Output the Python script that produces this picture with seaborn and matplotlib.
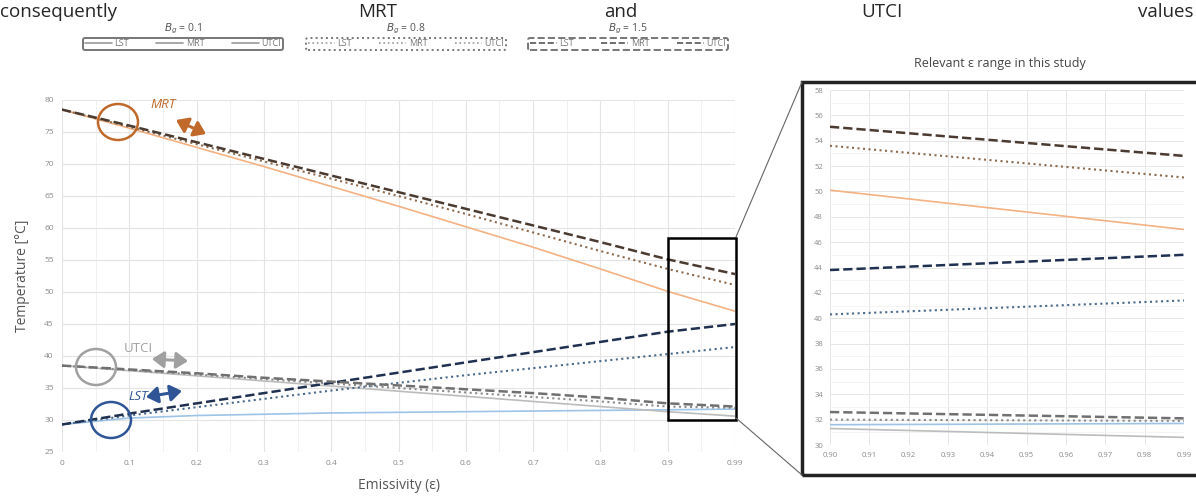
import numpy as np
import pandas as pd
import matplotlib
matplotlib.use("Agg")
import matplotlib.pyplot as plt
from matplotlib.patches import Ellipse, Rectangle, FancyArrowPatch
from matplotlib.lines import Line2D
import seaborn as sns

# x categories (emissivity)
emissivity = ["0", "0.1", "0.2", "0.3", "0.4", "0.5", "0.6", "0.7", "0.8", "0.9", "0.99"]

# B_g = 0.1 (solid)
lst_01 = [29.3, 30.3, 30.7, 30.9, 31.1, 31.2, 31.3, 31.4, 31.5, 31.6, 31.7]
mrt_01 = [78.5, 75.6, 72.6, 69.6, 66.5, 63.4, 60.2, 57.0, 53.6, 50.1, 47.0]
utci_01 = [38.5, 37.7, 36.9, 36.1, 35.3, 34.5, 33.7, 32.9, 32.1, 31.3, 30.6]
# B_g = 0.8 (dotted)
lst_08 = [29.3, 30.7, 32.0, 33.3, 34.6, 35.8, 37.0, 38.1, 39.2, 40.3, 41.4]
mrt_08 = [78.5, 75.8, 73.1, 70.4, 67.7, 65.0, 62.2, 59.3, 56.4, 53.6, 51.1]
utci_08 = [38.5, 37.8, 37.1, 36.4, 35.7, 35.0, 34.3, 33.6, 32.9, 32.1, 31.9]
# B_g = 1.5 (dashed)
lst_15 = [29.3, 31.0, 32.6, 34.2, 35.8, 37.4, 39.0, 40.6, 42.2, 43.8, 45.0]
mrt_15 = [78.5, 76.0, 73.4, 70.8, 68.2, 65.6, 63.0, 60.4, 57.8, 55.1, 52.8]
utci_15 = [38.5, 37.9, 37.3, 36.6, 36.0, 35.4, 34.8, 34.2, 33.5, 32.6, 32.1]

# zoomed range (0.90 -> 0.99)
zoom_eps = [0.90, 0.99]
zoom_lst_01 = [31.6, 31.7]
zoom_mrt_01 = [50.1, 47.0]
zoom_utci_01 = [31.3, 30.6]
zoom_lst_08 = [40.3, 41.4]
zoom_mrt_08 = [53.6, 51.1]
zoom_utci_08 = [32.0, 31.9]
zoom_lst_15 = [43.8, 45.0]
zoom_mrt_15 = [55.1, 52.8]
zoom_utci_15 = [32.6, 32.1]

bg_labels = ["0.1", "0.8", "1.5"]
styles = {"0.1": "-", "0.8": ":", "1.5": "--"}
colors = {
    ("LST", "0.1"): "#9dc3e6", ("MRT", "0.1"): "#f4b183", ("UTCI", "0.1"): "#bcbcbc",
    ("LST", "0.8"): "#4a6a8a", ("MRT", "0.8"): "#8c6b4f", ("UTCI", "0.8"): "#8a8a8a",
    ("LST", "1.5"): "#1f3050", ("MRT", "1.5"): "#4a3a30", ("UTCI", "1.5"): "#707070",
}
widths = {"0.1": 1.2, "0.8": 1.5, "1.5": 1.8}

main = {
    ("LST", "0.1"): lst_01, ("MRT", "0.1"): mrt_01, ("UTCI", "0.1"): utci_01,
    ("LST", "0.8"): lst_08, ("MRT", "0.8"): mrt_08, ("UTCI", "0.8"): utci_08,
    ("LST", "1.5"): lst_15, ("MRT", "1.5"): mrt_15, ("UTCI", "1.5"): utci_15,
}
zoomed = {
    ("LST", "0.1"): zoom_lst_01, ("MRT", "0.1"): zoom_mrt_01, ("UTCI", "0.1"): zoom_utci_01,
    ("LST", "0.8"): zoom_lst_08, ("MRT", "0.8"): zoom_mrt_08, ("UTCI", "0.8"): zoom_utci_08,
    ("LST", "1.5"): zoom_lst_15, ("MRT", "1.5"): zoom_mrt_15, ("UTCI", "1.5"): zoom_utci_15,
}

sns.set_style("white")
plt.rcParams["font.family"] = ["Open Sans", "DejaVu Sans"]

W, H = 1196, 497
fig = plt.figure(figsize=(W / 100, H / 100), dpi=100)


def fx(px):
    return px / W


def fy(py):
    return 1 - py / H


ax = fig.add_axes([fx(62), fy(452), fx(735) - fx(62), fy(100) - fy(452)])
axz = fig.add_axes([fx(830), fy(445), fx(1184) - fx(830), fy(90) - fy(445)])

for (var, bg), vals in main.items():
    df = pd.DataFrame({"eps": emissivity, "T": vals})
    sns.lineplot(data=df, x="eps", y="T", ax=ax, color=colors[(var, bg)],
                 linestyle=styles[bg], linewidth=widths[bg])
for (var, bg), vals in zoomed.items():
    df = pd.DataFrame({"eps": zoom_eps, "T": vals})
    sns.lineplot(data=df, x="eps", y="T", ax=axz, color=colors[(var, bg)],
                 linestyle=styles[bg], linewidth=widths[bg])

# main axes styling
ax.set_xlim(0, 10)
ax.set_ylim(25, 80)
ax.set_yticks(np.arange(25, 81, 5))
ax.set_xticks(range(len(emissivity)))
ax.set_xticks(np.arange(0.5, 10, 1), minor=True)
ax.grid(True, which="major", color="#e4e4e4", linewidth=0.8)
ax.grid(True, which="minor", axis="x", color="#efefef", linewidth=0.6)
for s in ax.spines.values():
    s.set_visible(False)
ax.tick_params(axis="both", labelsize=6, colors="#8a8a8a", length=0, pad=6)
ax.set_xlabel("Emissivity (ε)", fontsize=10, color="#555555", labelpad=8)
ax.set_ylabel("Temperature [°C]", fontsize=10, color="#555555", labelpad=10)

# zoomed axes styling
axz.set_xlim(0.90, 0.99)
axz.set_ylim(30, 58)
axz.set_xticks(np.round(np.arange(0.90, 0.995, 0.01), 2))
axz.set_xticklabels([f"{v:.2f}" for v in np.arange(0.90, 0.995, 0.01)])
axz.set_yticks(np.arange(30, 59, 2))
axz.set_yticks(np.arange(31, 58, 2), minor=True)
axz.grid(True, which="major", color="#e6e6e6", linewidth=0.7)
axz.grid(True, which="minor", axis="y", color="#f0f0f0", linewidth=0.5)
for s in axz.spines.values():
    s.set_visible(False)
axz.tick_params(axis="both", labelsize=5.5, colors="#8a8a8a", length=0, pad=5)
axz.set_xlabel("")
axz.set_ylabel("")

# zoom box on main chart
ax.add_patch(Rectangle((9, 30), 1.02, 28.5, fill=False, edgecolor="black",
                       linewidth=1.8, clip_on=False, zorder=5))
# inset frame and connectors
fig.patches.append(Rectangle((fx(802), fy(475)), 1.0, fy(82) - fy(475), fill=False,
                             edgecolor="#222222", linewidth=2.5, transform=fig.transFigure))
fig.lines.append(Line2D([fx(736), fx(802)], [fy(237), fy(82)], color="#666666",
                        linewidth=0.8, transform=fig.transFigure))
fig.lines.append(Line2D([fx(736), fx(802)], [fy(418), fy(475)], color="#666666",
                        linewidth=0.8, transform=fig.transFigure))
fig.text(fx(1000), fy(64), "Relevant ε range in this study", ha="center", va="center",
         fontsize=9, color="#444444")

# highlight circles, labels and arrows
marks = [
    ("MRT", 118, 122, "#c0692a", 150, 104, True, (176, 120), (206, 134)),
    ("UTCI", 96, 367, "#a0a0a0", 124, 348, False, (152, 359), (188, 361)),
    ("LST", 111, 420, "#2f5597", 128, 397, True, (146, 397), (182, 391)),
]
for name, cx, cy, col, tx, ty, ital, a0, a1 in marks:
    fig.patches.append(Ellipse((fx(cx), fy(cy)), fx(40), 36 / H, fill=False,
                               edgecolor=col, linewidth=1.8, transform=fig.transFigure))
    fig.text(fx(tx), fy(ty), name, fontsize=9.5, color=col, ha="left", va="center",
             style="italic" if ital else "normal")
    fig.add_artist(FancyArrowPatch(
        (fx(a0[0]), fy(a0[1])), (fx(a1[0]), fy(a1[1])), transform=fig.transFigure,
        arrowstyle="<|-|>,head_length=0.5,head_width=0.35", mutation_scale=14,
        linewidth=2.2, color=col, shrinkA=0, shrinkB=0))

# legends (one per B_g)
legend_x = {"0.1": 183, "0.8": 406, "1.5": 628}
for bg in bg_labels:
    handles = [Line2D([0], [0], color="#999999" if bg != "1.5" else "#555555",
                      linestyle=styles[bg], linewidth=1.2) for _ in range(3)]
    leg = fig.legend(handles, ["LST", "MRT", "UTCI"], ncol=3, loc="center",
                     bbox_to_anchor=(fx(legend_x[bg]), fy(44)), fontsize=6.5,
                     handlelength=3.0, columnspacing=3.0, handletextpad=0.3,
                     borderpad=0.15, frameon=True, fancybox=True, labelcolor="#777777")
    fr = leg.get_frame()
    fr.set_edgecolor("#555555")
    fr.set_linewidth(1.4)
    fr.set_linestyle(styles[bg])
    fig.text(fx(legend_x[bg]), fy(29), f"$B_g$ = {bg}", ha="center", va="center",
             fontsize=7.5, color="#555555")

# surrounding paper text
fig.text(fx(0), fy(12), "consequently", fontsize=13.5, ha="left", va="center")
fig.text(fx(378), fy(12), "MRT", fontsize=13.5, ha="center", va="center")
fig.text(fx(621), fy(12), "and", fontsize=13.5, ha="center", va="center")
fig.text(fx(882), fy(12), "UTCI", fontsize=13.5, ha="center", va="center")
fig.text(fx(1194), fy(12), "values", fontsize=13.5, ha="right", va="center")

fig.savefig("out.png", dpi=100)
